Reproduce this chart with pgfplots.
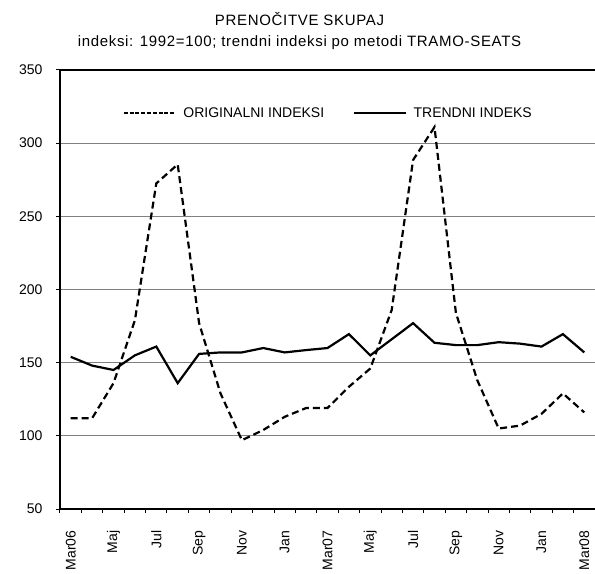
\documentclass[border=0pt]{standalone}
\usepackage{pgfplots}
\pgfplotsset{compat=1.18}
\usepackage{fontspec}
\setmainfont{Liberation Sans}
\newfontfamily\titlefont[LetterSpace=4.5]{Liberation Sans}
\begin{document}
\begin{tikzpicture}
\begin{axis}[
  name=ax,
  scale only axis,
  width=535bp, height=439bp,
  xmin=-0.5, xmax=24.5,
  ymin=50, ymax=350,
  axis lines*=left,
  axis line style={black, line width=1.6bp},
  tick align=outside,
  /pgf/number format/assume math mode=true,
  font=\fontsize{14bp}{16bp}\selectfont,
  tick label style={font=\fontsize{14bp}{16bp}\selectfont},
  yticklabel style={xshift=-10bp},
  ytick={50,100,...,300},
  extra y ticks={350},
  extra y tick labels={350},
  extra y tick style={grid style={black, line width=1.6bp}},
  ymajorgrids,
  grid style={draw=black!50, line width=1bp},
  ytick style={black, line width=1bp},
  major tick length=4bp,
  xtick={-0.5,0.5,...,24.5},
  xticklabels={},
  xtick style={black, line width=1bp},
  extra x ticks={0,2,...,24},
  extra x tick labels={Mar06,Maj,Jul,Sep,Nov,Jan,Mar07,Maj,Jul,Sep,Nov,Jan,Mar08},
  extra x tick style={major tick length=0pt, grid=none,
    xticklabel style={yshift=-18bp, rotate=90, anchor=east}},
  legend style={at={(0.112,0.902)}, anchor=west, draw=none, fill=none,
    legend columns=2, font=\fontsize{14bp}{16bp}\selectfont,
    /tikz/every odd column/.append style={column sep=5bp},
    /tikz/every even column/.append style={column sep=27bp}},
]
\addplot[black, line width=2.2bp, dash pattern=on 7bp off 4bp,
  legend image code/.code={\draw[black, line width=1.3bp, dash pattern=on 4bp off 1.8bp] (0bp,0bp) -- (52bp,0bp);}] coordinates {
(0,112) (1,112) (2,136) (3,179) (4,272.5) (5,285.5) (6,177) (7,129) (8,97) (9,104)
(10,113) (11,119) (12,119) (13,133.5) (14,146) (15,186) (16,288.5) (17,311) (18,184)
(19,138) (20,105) (21,107) (22,115) (23,129) (24,116)};
\addlegendentry{ORIGINALNI INDEKSI}
\addplot[black, line width=2.2bp,
  legend image code/.code={\draw[black, line width=1.4bp] (0bp,0bp) -- (52bp,0bp);}] coordinates {
(0,154) (1,148) (2,145) (3,155) (4,161) (5,136) (6,156) (7,157) (8,157) (9,160)
(10,157) (11,158.6) (12,160) (13,169.5) (14,155) (15,166) (16,177) (17,163.6) (18,162)
(19,162) (20,164) (21,163) (22,161) (23,169.5) (24,157)};
\addlegendentry{TRENDNI INDEKS}
\end{axis}
\node[anchor=base, font=\titlefont\fontsize{15bp}{17bp}\selectfont] at ([shift={(239.5bp,44bp)}]ax.north west) {PRENOČITVE SKUPAJ};
\node[anchor=base, font=\titlefont\fontsize{15bp}{17bp}\selectfont] at ([shift={(239.5bp,23.5bp)}]ax.north west) {indeksi: 1992=100; trendni indeksi po metodi TRAMO-SEATS};
\pgfresetboundingbox
\path[use as bounding box] ([shift={(-60bp,-65bp)}]ax.south west) rectangle ([shift={(0bp,70bp)}]ax.north east);
\end{tikzpicture}
\end{document}
